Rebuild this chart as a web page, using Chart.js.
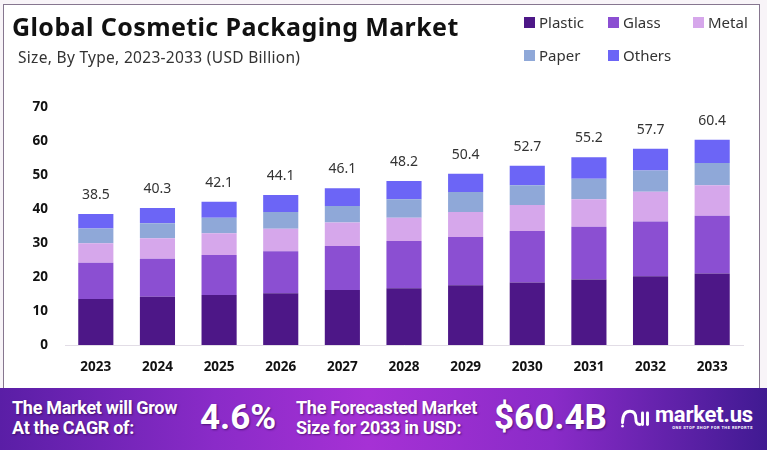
<!DOCTYPE html>
<html>
<head>
<meta charset="utf-8">
<script src="https://cdn.jsdelivr.net/npm/chart.js@4.4.1/dist/chart.umd.min.js"></script>
<style>
  html, body { margin: 0; padding: 0; }
  body { width: 767px; height: 450px; position: relative; overflow: hidden; background: #f8f4f8; font-family: "Noto Sans", "Open Sans", sans-serif; }
  #card { position: absolute; left: 3px; top: 4px; width: 757px; height: 384px; background: #fff; border: 1.5px solid #86768f; border-bottom: none; box-sizing: border-box; }
  #chart { position: absolute; left: 0; top: 0; }
  #title { position: absolute; left: 12px; top: 9px; font: 700 25px "Noto Sans", sans-serif; color: #111; letter-spacing: 0.4px; }
  #subtitle { position: absolute; left: 18px; top: 46px; font: 400 15.5px "Noto Sans", sans-serif; color: #333; letter-spacing: 0.3px; }
  #legend { position: absolute; left: 524px; top: 11px; display: grid; grid-template-columns: 84px 85px auto; row-gap: 11px; }
  .item { display: flex; align-items: center; font: 400 15px "Noto Sans", sans-serif; color: #333; height: 22px; }
  .sw { width: 11px; height: 11px; margin-right: 4px; }
  #banner { position: absolute; left: 0; top: 388px; width: 767px; height: 62px;
    background: linear-gradient(90deg, #5a1ea6 0%, #8a2bc8 28%, #a631d5 48%, #8a2bc8 72%, #401a92 100%); color: #fff; }
  .b { position: absolute; font-family: "Roboto", sans-serif; font-weight: 700; text-shadow: 1px 1px 2px rgba(40,0,70,0.6); }
  .small { font-size: 18px; line-height: 20px; top: 10px; letter-spacing: -0.3px; }
  .big { font-size: 35px; top: 10px; line-height: 40px; }
  #logo { position: absolute; left: 620px; top: 15px; display: flex; align-items: center; }
  #logo .name { font: 700 22px "Roboto", sans-serif; letter-spacing: -0.2px; line-height: 23px; }
  #logo .tag { font: 700 4px "Roboto", sans-serif; letter-spacing: 0.5px; text-align: right; margin-top: -1px; }
</style>
</head>
<body>
<div id="card"></div>
<canvas id="chart" width="767" height="450"></canvas>
<div id="title">Global Cosmetic Packaging Market</div>
<div id="subtitle">Size, By Type, 2023-2033 (USD Billion)</div>
<div id="legend"></div>
<div id="banner">
  <div class="b small" style="left:12px">The Market will Grow<br>At the CAGR of:</div>
  <div class="b big" style="left:200px">4.6%</div>
  <div class="b small" style="left:296px">The Forecasted Market<br>Size for 2033 in USD:</div>
  <div class="b big" style="left:494px">$60.4B</div>
  <div id="logo">
    <svg width="30" height="24" viewBox="0 0 36 26" style="margin-right:5px">
      <path d="M3 20 Q3 6 12 6 Q19 6 19 15 Q19 22 24 22" fill="none" stroke="#fff" stroke-width="3.5" stroke-linecap="round"/>
      <line x1="27" y1="8" x2="27" y2="22" stroke="#fff" stroke-width="3.5" stroke-linecap="round"/>
      <line x1="33" y1="8" x2="33" y2="22" stroke="#fff" stroke-width="3.5" stroke-linecap="round"/>
      <circle cx="3" cy="24" r="1.6" fill="#fff"/>
    </svg>
    <div><div class="name">market.us</div><div class="tag">ONE STOP SHOP FOR THE REPORTS</div></div>
  </div>
</div>
<script>
const years = ['2023','2024','2025','2026','2027','2028','2029','2030','2031','2032','2033'];
const plastic = [13.5, 14.2, 14.7, 15.2, 16.2, 16.7, 17.6, 18.4, 19.3, 20.2, 21.0];
const glass   = [10.7, 11.2, 11.8, 12.4, 12.9, 13.9, 14.2, 15.1, 15.5, 16.1, 17.0];
const metal   = [5.7, 6.0, 6.4, 6.6, 6.9, 6.8, 7.3, 7.7, 8.1, 8.8, 9.0];
const paper   = [4.4, 4.4, 4.5, 4.9, 4.9, 5.5, 5.9, 5.8, 6.0, 6.2, 6.5];
const others  = [4.2, 4.5, 4.7, 5.0, 5.2, 5.3, 5.4, 5.7, 6.3, 6.4, 6.9];
const totals  = [38.5, 40.3, 42.1, 44.1, 46.1, 48.2, 50.4, 52.7, 55.2, 57.7, 60.4];
const yTicks  = [0, 10, 20, 30, 40, 50, 60, 70];

const series = [
  { label: 'Plastic', data: plastic, color: '#4d1787' },
  { label: 'Glass',   data: glass,   color: '#8b4fd2' },
  { label: 'Metal',   data: metal,   color: '#d6a7eb' },
  { label: 'Paper',   data: paper,   color: '#8fa8d8' },
  { label: 'Others',  data: others,  color: '#6c65f6' }
];

// legend em html, mesma ordem da imagem
const legendOrder = ['Plastic','Glass','Metal','Paper','Others'];
document.getElementById('legend').innerHTML = legendOrder.map(name=>{
  const s = series.find(x=>x.label===name);
  return `<div class="item"><span class="sw" style="background:${s.color}"></span>${s.label}</div>`;
}).join('');

const totalLabels = {
  id: 'totalLabels',
  afterDatasetsDraw(chart){
    const ctx = chart.ctx;
    const meta = chart.getDatasetMeta(series.length - 1);
    ctx.save();
    ctx.font = '400 14px "Noto Sans", sans-serif';
    ctx.fillStyle = '#333';
    ctx.textAlign = 'center';
    ctx.textBaseline = 'middle';
    meta.data.forEach((bar,i)=>{
      ctx.fillText(totals[i].toFixed(1), bar.x, bar.y - 19);
    });
    ctx.restore();
  }
};

new Chart(document.getElementById('chart'), {
  type: 'bar',
  data: {
    labels: years,
    datasets: series.map(s=>({
      label: s.label,
      data: s.data,
      backgroundColor: s.color,
      borderWidth: 0,
      categoryPercentage: 1,
      barPercentage: 0.57
    }))
  },
  options: {
    responsive: false,
    animation: false,
    layout: { padding: { top: 107, right: 24, bottom: 65, left: 0 } },
    plugins: { legend: { display: false }, tooltip: { enabled: false } },
    scales: {
      x: {
        stacked: true,
        grid: { display: false, drawTicks: false },
        border: { display: true, color: '#e2dde6', width: 1 },
        ticks: { padding: 14, color: '#111', font: { family: '"Noto Sans", sans-serif', size: 13.5, weight: '700' } },
        afterFit(scale){ scale.height = 40; }
      },
      y: {
        stacked: true,
        min: 0, max: 70,
        afterBuildTicks(scale){ scale.ticks = yTicks.map(v=>({ value: v })); },
        grid: { display: false, drawTicks: false },
        border: { display: false },
        ticks: { padding: 17, color: '#111', font: { family: '"Noto Sans", sans-serif', size: 13.5, weight: '700' } },
        afterFit(scale){ scale.width = 65; }
      }
    }
  },
  plugins: [totalLabels]
});
</script>
</body>
</html>
